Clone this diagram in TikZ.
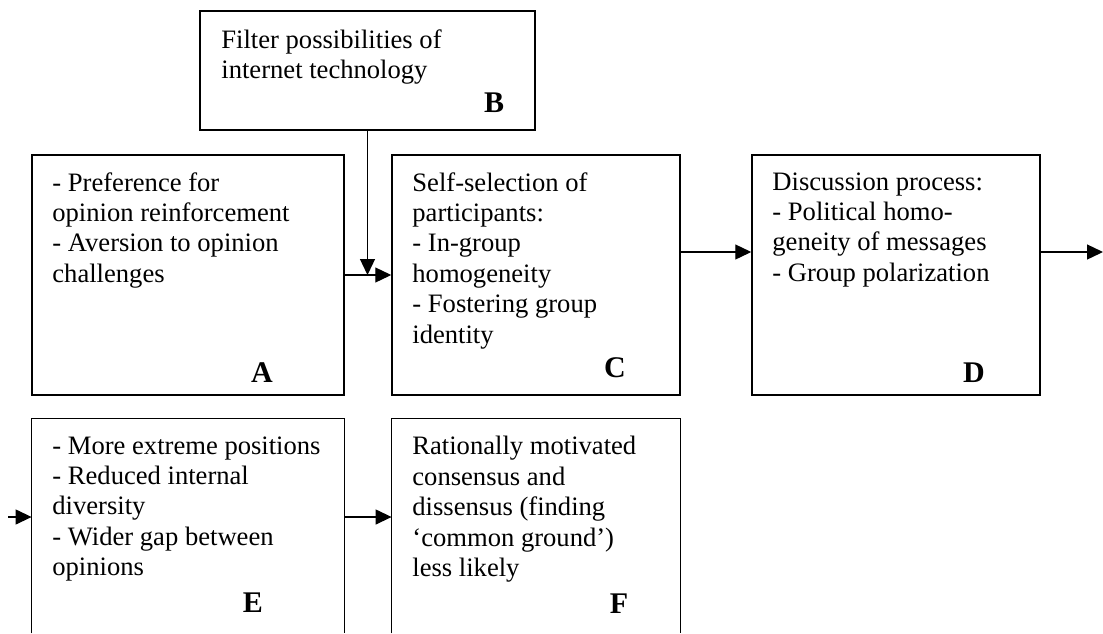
\documentclass[tikz,border=0pt]{standalone}
\usepackage{fontspec}
\setmainfont{Liberation Serif}
\usetikzlibrary{arrows.meta}
\begin{document}
\begin{tikzpicture}[x=0.5pt,y=-0.5pt,
  box/.style={draw, line width=0.75pt, inner sep=0pt, rectangle},
  openbox/.style={draw=none, inner sep=0pt, rectangle},
  txt/.style={anchor=north west, inner sep=0pt, align=left, font=\fontsize{13.3}{15.2}\selectfont},
  lab/.style={inner sep=0pt, font=\fontsize{15}{17}\selectfont\bfseries},
  arr/.style={line width=0.65pt, -{Triangle[length=8pt,width=7.5pt]}}]
\useasboundingbox (0,0) rectangle (1103,633);
% boxes
\node[box, minimum width=167.5pt, minimum height=59.5pt] (B) at (367.5,70.5) {};
\node[box, minimum width=156pt, minimum height=120pt] (A) at (188,275) {};
\node[box, minimum width=144pt, minimum height=120pt] (C) at (536,275) {};
\node[box, minimum width=144pt, minimum height=120pt] (D) at (896,275) {};
\node[openbox, minimum width=156pt, minimum height=107pt] (E) at (188,526) {};
\node[openbox, minimum width=144pt, minimum height=107pt] (F) at (536,526) {};
\draw[line width=0.75pt] (E.south west) -- (E.north west) -- (E.north east) -- (E.south east);
\draw[line width=0.75pt] (F.south west) -- (F.north west) -- (F.north east) -- (F.south east);
% texts
\node[txt] (Bt) at (221,29) {Filter possibilities of\\internet technology};
\node[txt] (At) at (52,172) {- Preference for\\opinion reinforcement\\- Aversion to opinion\\challenges};
\node[txt] (Ct) at (412,172) {Self-selection of\\participants:\\- In-group\\homogeneity\\- Fostering group\\identity};
\node[txt] (Dt) at (772,172) {Discussion process:\\- Political homo-\\geneity of messages\\- Group polarization};
\node[txt] (Et) at (52,436) {- More extreme positions\\- Reduced internal\\diversity\\- Wider gap between\\opinions};
\node[txt] (Ft) at (412,436) {Rationally motivated\\consensus and\\dissensus (finding\\‘common ground’)\\less likely};
% labels
\node[lab] (Bl) at (494,103) {B};
\node[lab] (Al) at (262,373) {A};
\node[lab] (Cl) at (615,368) {C};
\node[lab] (Dl) at (974,373) {D};
\node[lab] (El) at (253,603) {E};
\node[lab] (Fl) at (619,604) {F};
% connectors
\coordinate (out) at (1103,252);
\coordinate (in) at (8,517);
\draw[arr] (B.south) -- (B.south |- A.east);
\draw[arr] (A.east) -- (C.west);
\draw[arr] ([yshift=11.5pt]C.east) -- ([yshift=11.5pt]D.west);
\draw[arr] ([yshift=11.5pt]D.east) -- (out);
\draw[arr] (in) -- (in -| E.west);
\draw[arr] ([yshift=4.5pt]E.east) -- ([yshift=4.5pt]F.west);
\end{tikzpicture}
\end{document}
